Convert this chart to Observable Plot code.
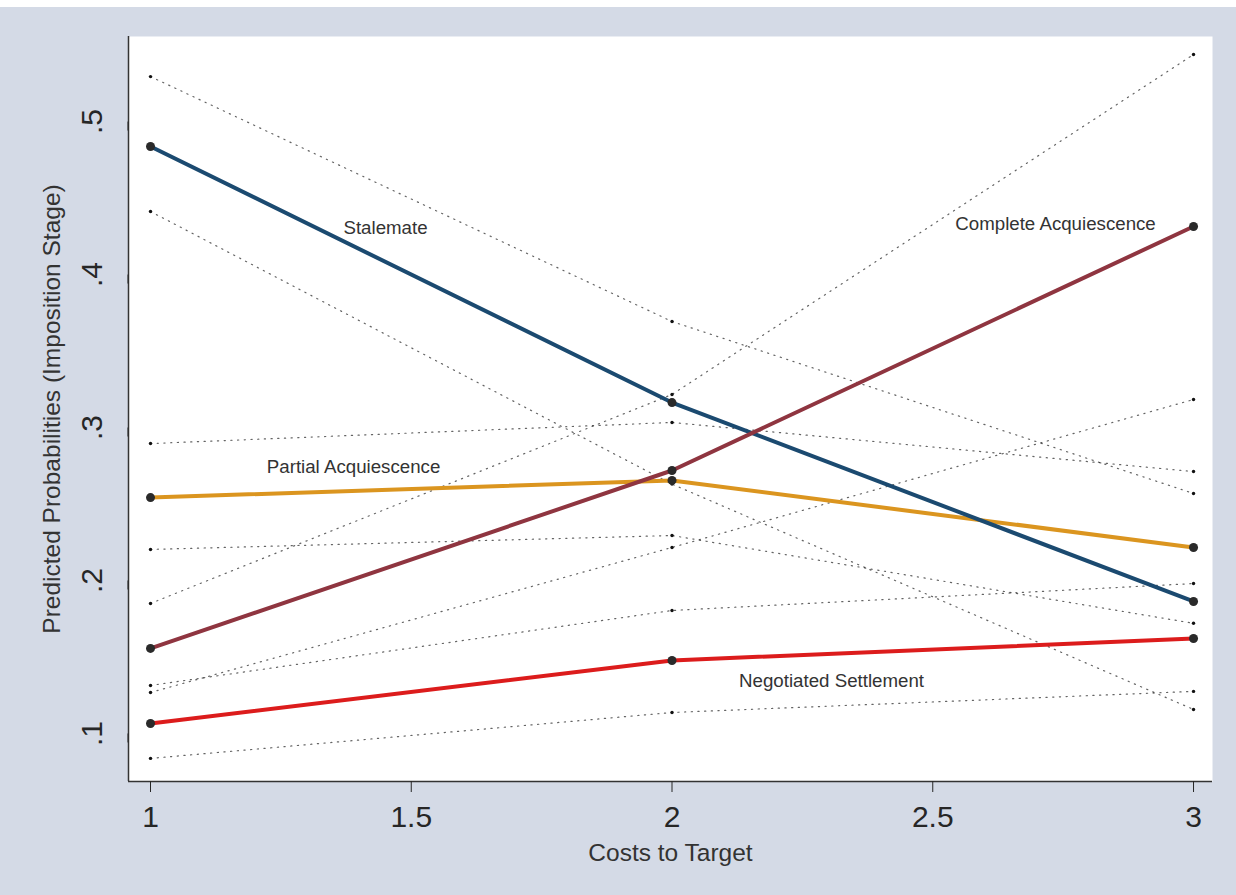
<!DOCTYPE html>
<html>
<head>
<meta charset="utf-8">
<script src="https://cdn.jsdelivr.net/npm/d3@7"></script>
<script src="https://cdn.jsdelivr.net/npm/@observablehq/plot@0.6"></script>
<style>
  body { margin: 0; background: #ffffff; }
  #chart { margin-top: 7px; width: 1236px; height: 888px; background: #d4dae6; }
  #chart svg { display: block; }
</style>
</head>
<body>
<div id="chart"></div>
<script>
// Predicted probabilities of each outcome at the imposition stage,
// with upper and lower confidence bounds, by costs to target.
const costs = [1, 2, 3];
const outcomes = ["Stalemate", "Complete Acquiescence", "Partial Acquiescence", "Negotiated Settlement"];

const stalemate    = [0.4837, 0.3163, 0.1863];
const stalemateLo  = [0.4412, 0.2630, 0.1157];
const stalemateHi  = [0.5294, 0.3693, 0.2569];

const complete     = [0.1556, 0.2719, 0.4314];
const completeLo   = [0.1268, 0.2216, 0.3183];
const completeHi   = [0.1850, 0.3216, 0.5438];

const partial      = [0.2542, 0.2654, 0.2216];
const partialLo    = [0.2203, 0.2294, 0.1720];
const partialHi    = [0.2895, 0.3033, 0.2712];

const negotiated   = [0.1065, 0.1477, 0.1621];
const negotiatedLo = [0.0837, 0.1137, 0.1275];
const negotiatedHi = [0.1314, 0.1804, 0.1980];

// In-plot labels, placed in data coordinates
const labelX = [1.4506, 2.7354, 1.3893, 2.3059];
const labelY = [0.4307, 0.4327, 0.2739, 0.1340];

const xTicks = [1, 1.5, 2, 2.5, 3];
const yTicks = [0.1, 0.2, 0.3, 0.4, 0.5];
const xTitle = "Costs to Target";
const yTitle = "Predicted Probabilities (Imposition Stage)";

// ---- build the table the marks read from ----
const est = [stalemate, complete, partial, negotiated];
const lo  = [stalemateLo, completeLo, partialLo, negotiatedLo];
const hi  = [stalemateHi, completeHi, partialHi, negotiatedHi];
const drawOrder = [2, 0, 1, 3]; // partial, stalemate, complete, negotiated
const rows = [];
for (const i of drawOrder) {
  costs.forEach((c, j) => rows.push({outcome: outcomes[i], cost: c, p: est[i][j], lo: lo[i][j], hi: hi[i][j]}));
}
const labels = outcomes.map((name, i) => ({name, x: labelX[i], y: labelY[i]}));

const colors = ["#1b4a70", "#8f3540", "#db951f", "#dc1c1c"];
const xDomain = [0.9578, 3.0364];
const yDomain = [0.0686, 0.5556];
const font = "'Liberation Sans', Arial, sans-serif";
const ink = "#262626";

const chart = Plot.plot({
  width: 1236,
  height: 888,
  marginLeft: 128,
  marginRight: 24,
  marginTop: 29,
  marginBottom: 114,
  style: {fontFamily: font, background: "transparent", color: ink, overflow: "visible"},
  x: {domain: xDomain},
  y: {domain: yDomain},
  color: {domain: outcomes, range: colors},
  marks: [
    Plot.frame({fill: "white", stroke: "none"}),
    // confidence bounds
    Plot.line(rows, {x: "cost", y: "lo", z: "outcome", stroke: "#111", strokeWidth: 1.2, strokeDasharray: "1.2 5.5", strokeOpacity: 0.65}),
    Plot.line(rows, {x: "cost", y: "hi", z: "outcome", stroke: "#111", strokeWidth: 1.2, strokeDasharray: "1.2 5.5", strokeOpacity: 0.65}),
    Plot.dot(rows, {x: "cost", y: "lo", r: 1.7, fill: "#111", stroke: "none"}),
    Plot.dot(rows, {x: "cost", y: "hi", r: 1.7, fill: "#111", stroke: "none"}),
    // point estimates
    Plot.line(rows, {x: "cost", y: "p", z: "outcome", stroke: "outcome", strokeWidth: 4}),
    Plot.dot(rows, {x: "cost", y: "p", r: 4.5, fill: "#2a2a2a", stroke: "none"}),
    // outcome labels
    Plot.text(labels, {x: "x", y: "y", text: "name", fontSize: 18.7, fill: "#333", textAnchor: "middle", lineAnchor: "middle"}),
    // axes
    Plot.ruleX([xDomain[0]], {stroke: "#333", strokeWidth: 1.5}),
    Plot.ruleY([yDomain[0]], {stroke: "#333", strokeWidth: 1.5}),
    Plot.axisX(xTicks, {tickSize: 11, tickPadding: 13, fontSize: 30, tickFormat: d => String(d), label: null, color: ink}),
    Plot.axisY(yTicks, {tickSize: 9, tickPadding: 27, fontSize: 30, rotate: -90, textAnchor: "middle",
      tickFormat: d => String(d).replace(/^0/, ""), label: null, color: ink}),
    Plot.text([xTitle], {text: d => d, frameAnchor: "bottom", dy: 72, fontSize: 24.5, fill: "#333", textAnchor: "middle", lineAnchor: "middle"}),
    Plot.text([yTitle], {text: d => d, frameAnchor: "left", dx: -76, rotate: -90, fontSize: 24.5, fill: "#333", textAnchor: "middle", lineAnchor: "middle"})
  ]
});

document.getElementById("chart").appendChild(chart);
</script>
</body>
</html>
